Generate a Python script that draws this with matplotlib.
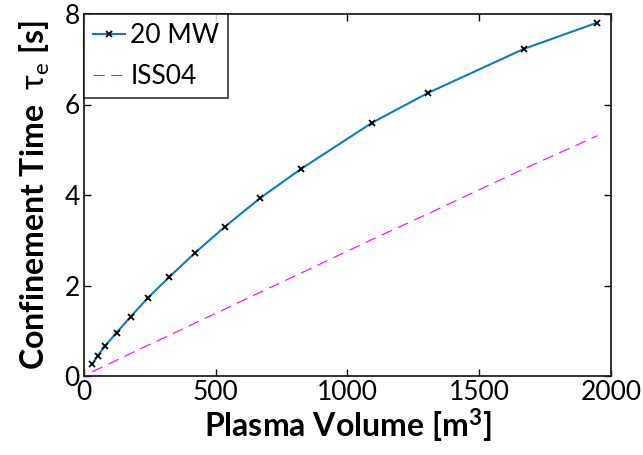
import matplotlib
matplotlib.use("Agg")
import matplotlib.pyplot as plt

volume = [31.5, 52, 81, 124, 177, 243, 324, 421, 535, 668, 822, 1094, 1307, 1670, 1948]
tau_20mw = [0.26, 0.45, 0.67, 0.96, 1.31, 1.73, 2.19, 2.72, 3.30, 3.93, 4.57, 5.60, 6.26, 7.23, 7.81]
tau_iss04 = [0.10, 0.15, 0.23, 0.35, 0.50, 0.68, 0.90, 1.17, 1.48, 1.85, 2.27, 3.02, 3.59, 4.58, 5.31]
x_ticks = [0, 500, 1000, 1500, 2000]
y_ticks = [0, 2, 4, 6, 8]

plt.rcParams['font.family'] = ['Lato', 'DejaVu Sans']
plt.rcParams['mathtext.fontset'] = 'custom'
plt.rcParams['mathtext.rm'] = 'Lato'
plt.rcParams['mathtext.bf'] = 'Lato:bold'
plt.rcParams['mathtext.it'] = 'Lato:italic'

fig = plt.figure(figsize=(6.43, 4.55), dpi=100)
ax = fig.add_axes([84/643, 1-376/455, (611-84)/643, (376-14)/455])

ax.plot(volume, tau_20mw, color='#0a7fc0', lw=1.5, marker='x', ms=4.5,
        mec='black', mew=1.3, label='20 MW')
ax.plot(volume, tau_iss04, color='#ff00ff', lw=0.8, ls=(0, (10, 6)), label='ISS04')

ax.set_xlim(0, 2000)
ax.set_ylim(0, 8)
ax.set_xticks(x_ticks)
ax.set_yticks(y_ticks)
ax.tick_params(direction='in', length=5, width=1, top=True, right=True,
               labelsize=19, pad=3)
for s in ax.spines.values():
    s.set_linewidth(1.3)
    s.set_color('#222222')

ax.set_xlabel(r'Plasma Volume [m$^\mathbf{3}$]', fontsize=23, fontweight='bold', labelpad=1)
ax.set_ylabel(r'Confinement Time  $\mathrm{\tau_e}$ [s]', fontsize=23, fontweight='bold', labelpad=9)

leg = ax.legend(loc='upper left', fontsize=19, frameon=True, fancybox=False,
                borderaxespad=0, handlelength=1.2, handletextpad=0.2,
                borderpad=0.35, labelspacing=0.6)
leg.get_frame().set_edgecolor('black')
leg.get_frame().set_linewidth(1.2)

fig.savefig('out.png', dpi=100)
